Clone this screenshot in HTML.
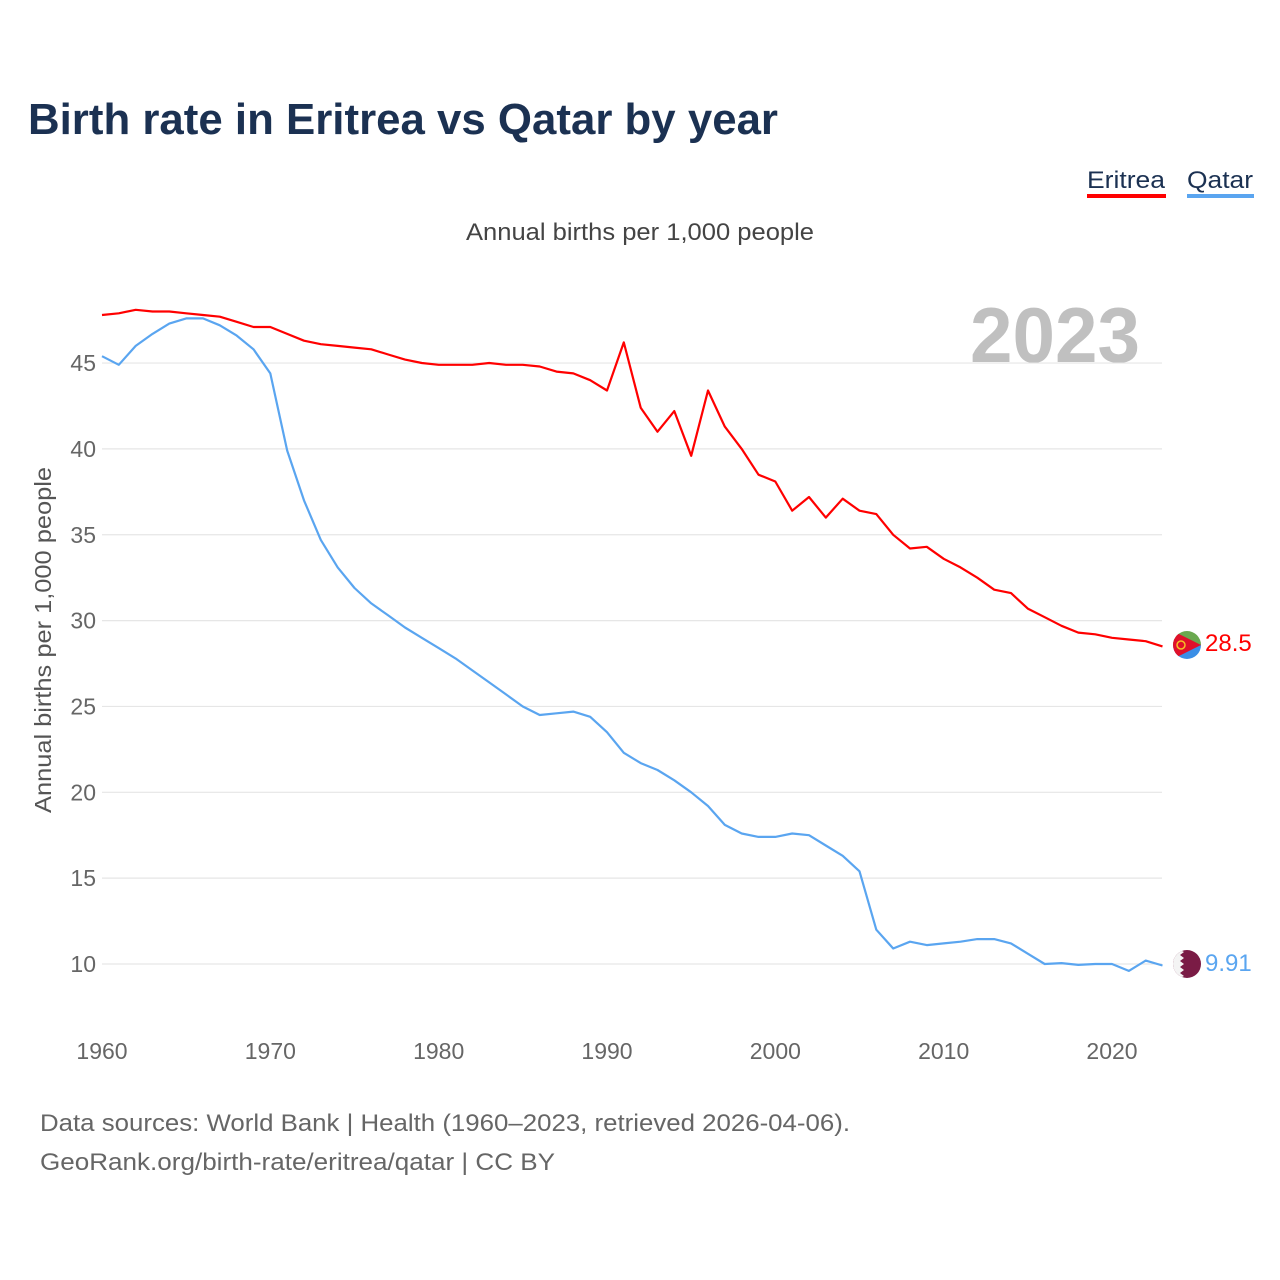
<!DOCTYPE html>
<html><head><meta charset="utf-8"><style>
html,body{margin:0;padding:0;background:#fff;}
svg{display:block;font-family:"Liberation Sans",sans-serif;}
</style></head><body>
<svg id="chart" width="1280" height="1280" viewBox="0 0 1280 1280">
<text x="28" y="134" font-size="44" font-weight="bold" fill="#1b3152" textLength="750" lengthAdjust="spacingAndGlyphs">Birth rate in Eritrea vs Qatar by year</text>
<g>
<g><text x="1087" y="188" font-size="24" fill="#1b3152" textLength="78" lengthAdjust="spacingAndGlyphs">Eritrea</text><rect x="1087" y="194" width="79" height="4" fill="#ff0000"/></g>
<g><text x="1187" y="188" font-size="24" fill="#1b3152" textLength="66" lengthAdjust="spacingAndGlyphs">Qatar</text><rect x="1187" y="194" width="67" height="4" fill="#5aa5f0"/></g>
</g>
<text x="640" y="240" font-size="24" fill="#444" text-anchor="middle" textLength="348" lengthAdjust="spacingAndGlyphs">Annual births per 1,000 people</text>
<text x="1140" y="362" font-size="78" font-weight="bold" fill="#c0c0c0" text-anchor="end" textLength="170" lengthAdjust="spacingAndGlyphs">2023</text>
<g id="grid"></g><g id="yticks"></g><g id="xticks"></g>
<text transform="translate(51,640) rotate(-90)" font-size="23" fill="#555" text-anchor="middle" textLength="346" lengthAdjust="spacingAndGlyphs">Annual births per 1,000 people</text>
<g id="lines"></g>
<g id="flags">
<g>
<clipPath id="ce"><circle cx="1187" cy="645" r="14"/></clipPath>
<g clip-path="url(#ce)"><rect x="1173" y="631" width="28" height="14" fill="#6aa84f"/><rect x="1173" y="645" width="28" height="14" fill="#3a8ee6"/><polygon points="1173,631 1201,645 1173,659" fill="#e0102a"/><circle cx="1181" cy="645" r="4" fill="none" stroke="#f6c026" stroke-width="1.5"/></g></g>
<g>
<clipPath id="cq"><circle cx="1187" cy="964" r="14"/></clipPath>
<g clip-path="url(#cq)"><rect x="1173" y="950" width="28" height="28" fill="#7a1b45"/><polygon points="1173,950 1180,950 1184,952 1180,955 1184,958 1180,961 1184,964 1180,967 1184,970 1180,973 1184,976 1180,978 1173,978" fill="#f4f4f4"/></g></g>
</g>
<text x="1205" y="651" font-size="24" fill="#ff0000">28.5</text>
<text x="1205" y="971" font-size="24" fill="#5aa5f0">9.91</text>
<text x="40" y="1131" font-size="24" fill="#666" textLength="810" lengthAdjust="spacingAndGlyphs">Data sources: World Bank | Health (1960–2023, retrieved 2026-04-06).</text>
<text x="40" y="1170" font-size="24" fill="#666" textLength="515" lengthAdjust="spacingAndGlyphs">GeoRank.org/birth-rate/eritrea/qatar | CC BY</text>
</svg>
<script>
const years=[];for(let y=1960;y<=2023;y++)years.push(y);
const eritrea=[47.8,47.9,48.1,48.0,48.0,47.9,47.8,47.7,47.4,47.1,47.1,46.7,46.3,46.1,46.0,45.9,45.8,45.5,45.2,45.0,44.9,44.9,44.9,45.0,44.9,44.9,44.8,44.5,44.4,44.0,43.4,46.2,42.4,41.0,42.2,39.6,43.4,41.3,40.0,38.5,38.1,36.4,37.2,36.0,37.1,36.4,36.2,35.0,34.2,34.3,33.6,33.1,32.5,31.8,31.6,30.7,30.2,29.7,29.3,29.2,29.0,28.9,28.8,28.5];
const qatar=[45.4,44.9,46.0,46.7,47.3,47.6,47.6,47.2,46.6,45.8,44.4,39.9,37.0,34.7,33.1,31.9,31.0,30.3,29.6,29.0,28.4,27.8,27.1,26.4,25.7,25.0,24.5,24.6,24.7,24.4,23.5,22.3,21.7,21.3,20.7,20.0,19.2,18.1,17.6,17.4,17.4,17.6,17.5,16.9,16.3,15.4,12.0,10.9,11.3,11.1,11.2,11.3,11.45,11.45,11.2,10.6,10.0,10.05,9.95,10.0,10.0,9.6,10.2,9.91];
const yTicks=[10,15,20,25,30,35,40,45];
const xTicks=[1960,1970,1980,1990,2000,2010,2020];
const NS="http://www.w3.org/2000/svg";
const X=v=>102+(v-1960)*(1010/60);
const Y=v=>1135.7-v*17.17;
function mk(tag,attrs,parent,txt){const e=document.createElementNS(NS,tag);for(const k in attrs)e.setAttribute(k,attrs[k]);if(txt!==undefined)e.textContent=txt;parent.appendChild(e);return e;}
const grid=document.getElementById('grid'),yt=document.getElementById('yticks'),xt=document.getElementById('xticks'),lines=document.getElementById('lines');
yTicks.forEach(v=>{
 const l=mk('line',{x1:102,x2:1162,y1:Y(v),y2:Y(v),stroke:'#e6e6e6','stroke-width':1.2},grid);
 
 
 const t=mk('text',{x:96,y:Y(v)+8,'font-size':23,fill:'#666','text-anchor':'end'},yt,String(v));
 
 
});
xTicks.forEach(v=>{
 const t=mk('text',{x:X(v),y:1059,'font-size':23,fill:'#666','text-anchor':'middle'},xt,String(v));
 
 
});
function line(data,color,name){
 const d=data.map((v,i)=>(i?'L':'M')+X(years[i]).toFixed(1)+','+Y(v).toFixed(1)).join('');
 const p=mk('path',{d:d,fill:'none',stroke:color,'stroke-width':2.2,'stroke-linejoin':'round'},lines);
 
 
}
line(eritrea,'#ff0000','eritrea-line');
line(qatar,'#5aa5f0','qatar-line');
</script>
</body></html>
